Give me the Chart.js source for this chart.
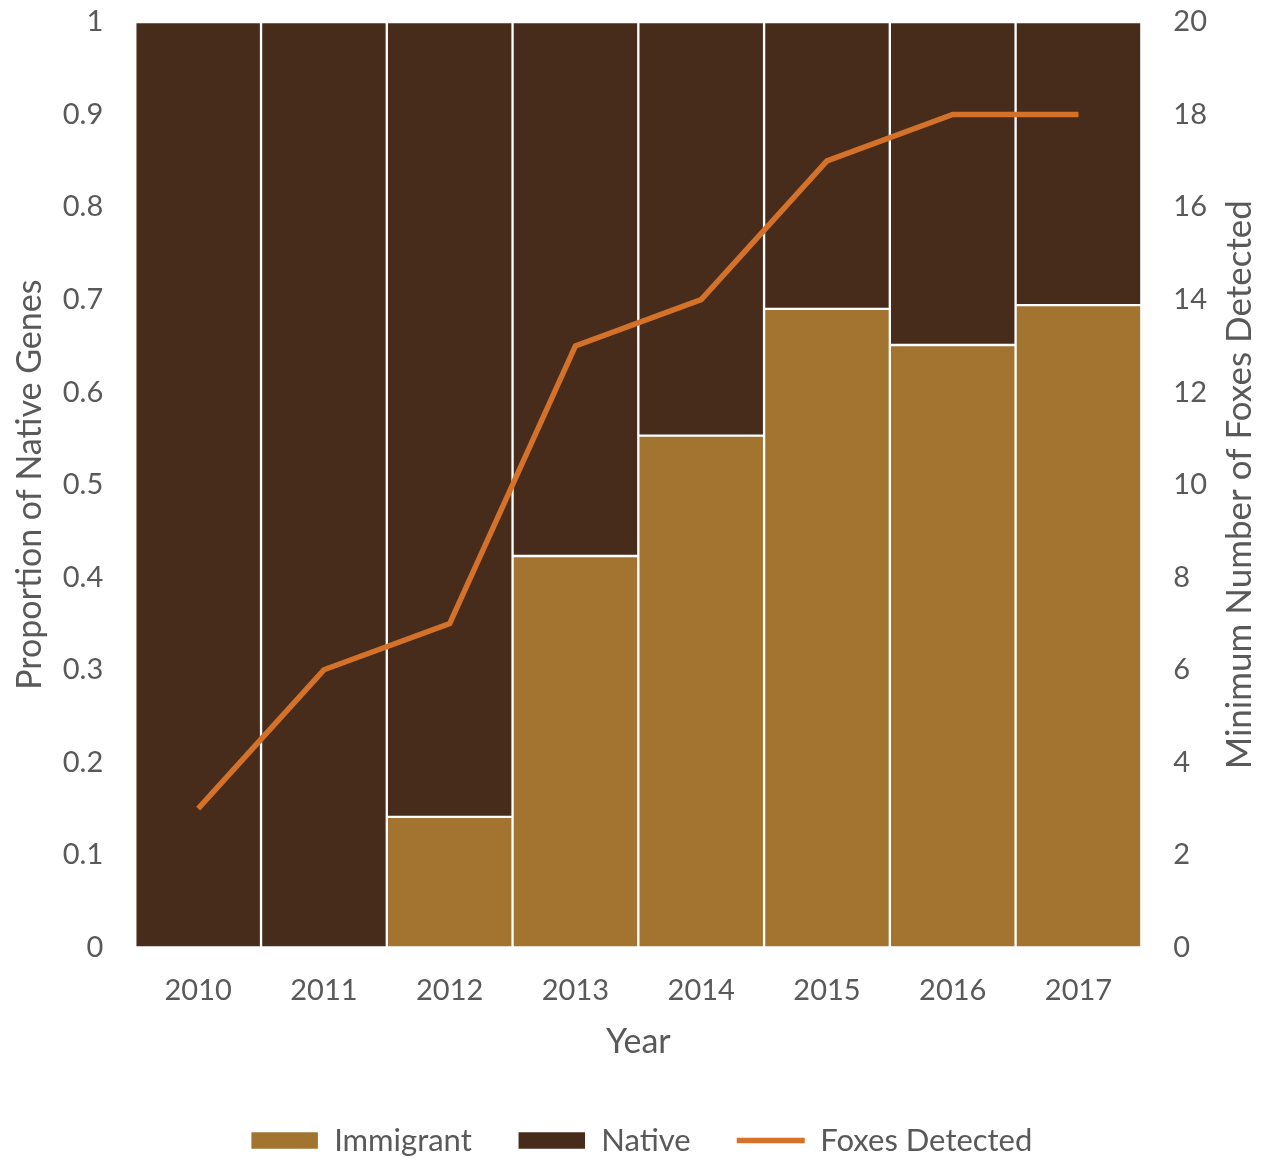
<!DOCTYPE html>
<html>
<head>
<meta charset="utf-8">
<script src="https://cdn.jsdelivr.net/npm/chart.js@4/dist/chart.umd.min.js"></script>
<style>
  html, body { margin: 0; padding: 0; background: #fff; }
  #wrap { width: 1266px; height: 1158px; }
</style>
</head>
<body>
<div id="wrap"><canvas id="chart" width="1266" height="1158"></canvas></div>
<script>
// --- DATOS ---
const years = ['2010', '2011', '2012', '2013', '2014', '2015', '2016', '2017'];
const immigrant = [0, 0, 0.141, 0.423, 0.553, 0.69, 0.651, 0.694];
const native = [1, 1, 0.859, 0.577, 0.447, 0.31, 0.349, 0.306];
const foxes = [3, 6, 7, 13, 14, 17, 18, 18];
const leftTickLabels = ['0', '0.1', '0.2', '0.3', '0.4', '0.5', '0.6', '0.7', '0.8', '0.9', '1'];
const rightTitle = 'Minimum Number of Foxes Detected';

const FONT = 'Lato, "Open Sans", sans-serif';
const GREY = '#595959';

// titulo del eje derecho, girado como el izquierdo (de abajo hacia arriba)
const rightTitlePlugin = {
  id: 'rightTitle',
  afterDraw(chart) {
    const { ctx, chartArea } = chart;
    ctx.save();
    ctx.translate(1240, (chartArea.top + chartArea.bottom) / 2);
    ctx.rotate(-Math.PI / 2);
    ctx.fillStyle = GREY;
    ctx.font = '35px ' + FONT;
    ctx.textAlign = 'center';
    ctx.textBaseline = 'middle';
    ctx.fillText(rightTitle, 0, 0);
    ctx.restore();
  }
};

// sin margen extra arriba por la etiqueta "1" / "20"
const noTopPad = (scale) => { scale.paddingTop = 0; };

new Chart(document.getElementById('chart'), {
  data: {
    labels: years,
    datasets: [
      {
        type: 'bar', label: 'Immigrant', data: immigrant, yAxisID: 'y', stack: 's',
        backgroundColor: '#A2742F', borderColor: '#ffffff', borderWidth: 1.5,
        borderSkipped: false, barPercentage: 1, categoryPercentage: 1,
        pointStyle: 'rect', order: 2
      },
      {
        type: 'bar', label: 'Native', data: native, yAxisID: 'y', stack: 's',
        backgroundColor: '#472C1C', borderColor: '#ffffff', borderWidth: 1.5,
        borderSkipped: false, barPercentage: 1, categoryPercentage: 1,
        pointStyle: 'rect', order: 2
      },
      {
        type: 'line', label: 'Foxes Detected', data: foxes, yAxisID: 'y2',
        borderColor: '#D4722A', backgroundColor: '#D4722A', borderWidth: 5.5,
        pointRadius: 0, pointStyle: 'line', tension: 0, order: 1
      }
    ]
  },
  plugins: [rightTitlePlugin],
  options: {
    responsive: false,
    animation: false,
    layout: { padding: { left: 52, right: 35, top: 22, bottom: -8 } },
    plugins: {
      tooltip: { enabled: false },
      legend: {
        position: 'bottom',
        labels: {
          usePointStyle: true, pointStyleWidth: 68, boxHeight: 18,
          color: GREY, font: { family: FONT, size: 31 }, padding: 46,
          sort: (a, b) => a.datasetIndex - b.datasetIndex
        }
      }
    },
    scales: {
      x: {
        stacked: true,
        grid: { display: false },
        border: { display: false },
        ticks: { color: GREY, font: { family: FONT, size: 29 }, padding: 18 },
        title: { display: true, text: 'Year', color: GREY, font: { family: FONT, size: 34 }, padding: { top: -5, bottom: 17 } }
      },
      y: {
        stacked: true, position: 'left', min: 0, max: 1,
        grid: { display: false },
        border: { display: false },
        afterFit: noTopPad,
        ticks: {
          stepSize: 0.1, color: GREY, font: { family: FONT, size: 29 }, padding: 24,
          callback: (v) => leftTickLabels[Math.round(v * 10)]
        },
        title: { display: true, text: 'Proportion of Native Genes', color: GREY, font: { family: FONT, size: 34 }, padding: { top: -42, bottom: -12 } }
      },
      y2: {
        position: 'right', min: 0, max: 20,
        grid: { display: false },
        border: { display: false },
        afterFit: noTopPad,
        ticks: { stepSize: 2, color: GREY, font: { family: FONT, size: 29 }, padding: 24 }
      }
    }
  }
});
</script>
</body>
</html>
